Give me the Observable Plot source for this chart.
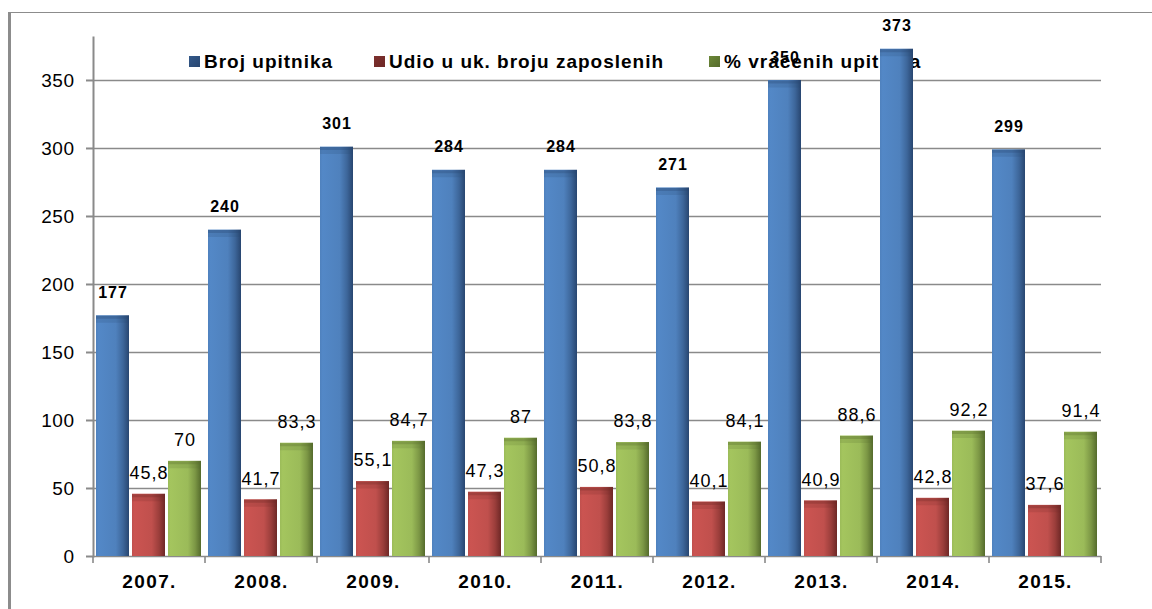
<!DOCTYPE html>
<html>
<head>
<meta charset="utf-8">
<script src="https://cdn.jsdelivr.net/npm/d3@7"></script>
<script src="https://cdn.jsdelivr.net/npm/@observablehq/plot@0.6"></script>
<style>
html, body { margin: 0; padding: 0; background: #fff; }
#wrap { position: relative; width: 1152px; height: 609px; overflow: hidden; font-family: "Liberation Sans", Arial, sans-serif; color: #000; }
#frame { position: absolute; left: 8px; top: 12px; right: -5px; bottom: -5px; border-top: 1px solid #8c8c8c; border-left: 3px solid #8c8c8c; }
.item { position: absolute; top: 50px; height: 23px; display: flex; align-items: center; font-weight: bold; font-size: 19px; letter-spacing: 1px; white-space: nowrap; }
.sw { width: 11px; height: 11px; margin-right: 4px; flex: none; }
#chart { position: absolute; left: 0; top: 0; }
</style>
</head>
<body>
<div id="wrap">
  <div id="frame"></div>
  <div id="legend"></div>
  <div id="chart"></div>
</div>
<script>
// ---- data ----
const years = ["2007.", "2008.", "2009.", "2010.", "2011.", "2012.", "2013.", "2014.", "2015."];
const seriesNames = ["Broj upitnika", "Udio u uk. broju zaposlenih", "% vraćenih upitnika"];
const brojUpitnika = [177, 240, 301, 284, 284, 271, 350, 373, 299];
const udioZaposlenih = [45.8, 41.7, 55.1, 47.3, 50.8, 40.1, 40.9, 42.8, 37.6];
const vracenihUpitnika = [70, 83.3, 84.7, 87, 83.8, 84.1, 88.6, 92.2, 91.4];
const yTicks = [0, 50, 100, 150, 200, 250, 300, 350];

const seriesValues = [brojUpitnika, udioZaposlenih, vracenihUpitnika];
const baseColors = ["#4F81BD", "#C0504D", "#9BBB59"];
const darkColors = ["#284670", "#6e2826", "#556b2c"];
const swatchColors = ["#34598a", "#7d302e", "#6c8838"];

const rows = [];
years.forEach((year, i) => {
  seriesNames.forEach((s, j) => {
    const v = seriesValues[j][i];
    rows.push({year, series: s, value: v, label: String(v).replace(".", ",")});
  });
});

// ---- legend (behind the chart, as in the reference) ----
const legendLeft = [189, 374, 709];
const legend = document.getElementById("legend");
seriesNames.forEach((s, j) => {
  const it = document.createElement("div");
  it.className = "item";
  it.style.left = legendLeft[j] + "px";
  const sw = document.createElement("span");
  sw.className = "sw";
  sw.style.background = `linear-gradient(135deg, ${swatchColors[j]}, ${darkColors[j]})`;
  const tx = document.createElement("span");
  tx.textContent = s;
  it.appendChild(sw);
  it.appendChild(tx);
  legend.appendChild(it);
});

// ---- chart ----
const marks = [
  Plot.ruleY(yTicks.filter(t => t > 0), {stroke: "#8a8a8a", strokeWidth: 1.4}),
  Plot.ruleY([0], {stroke: "#8a8a8a", strokeWidth: 1.6})
];
seriesNames.forEach((s, j) => {
  marks.push(Plot.barY(rows, {filter: d => d.series === s, x: "series", y: "value", fill: `url(#grad${j})`}));
  marks.push(Plot.tickY(rows, {filter: d => d.series === s, x: "series", y: "value", stroke: darkColors[j], strokeOpacity: 0.18, strokeWidth: 7, dy: 3.5}));
  marks.push(Plot.tickY(rows, {filter: d => d.series === s, x: "series", y: "value", stroke: darkColors[j], strokeOpacity: 0.3, strokeWidth: 3, dy: 1.5}));
});
marks.push(Plot.text(rows, {filter: d => d.series === seriesNames[0], x: "series", y: "value", text: "label", dy: -23, fontWeight: "bold", fontSize: 16, fill: "#000"}));
marks.push(Plot.text(rows, {filter: d => d.series !== seriesNames[0], x: "series", y: "value", text: "label", dy: -21, fontSize: 18, fill: "#000"}));

const chart = Plot.plot({
  width: 1152,
  height: 609,
  marginTop: 37,
  marginBottom: 53,
  marginLeft: 92,
  marginRight: 50,
  style: {background: "transparent", fontFamily: "Liberation Sans, Arial, sans-serif", fontSize: "19px", color: "#000"},
  facet: {data: rows, x: "year"},
  fx: {domain: years, padding: 0, axis: "bottom", tickSize: 0, tickPadding: 18, label: null},
  x: {domain: seriesNames, axis: null, paddingInner: 0.082, paddingOuter: 0.077},
  y: {domain: [0, 381.6], ticks: yTicks, tickSize: 7, tickPadding: 12, label: null, line: true, tickFormat: d => String(d)},
  marks
});
document.getElementById("chart").appendChild(chart);

// ---- styling / decorations ----
const s = d3.select(chart);
s.selectAll('[stroke="currentColor"]').attr("stroke", "#8a8a8a").attr("stroke-width", 2);
s.selectAll('g[aria-label^="fx-axis"] text').style("font-weight", "bold").style("letter-spacing", "1.4px");
s.selectAll('g[aria-label^="y-axis"] text').style("letter-spacing", "0.5px");
s.selectAll('g[aria-label="text"] text').style("letter-spacing", "1px");

const defs = s.insert("defs", ":first-child");
baseColors.forEach((c, j) => {
  const g = defs.append("linearGradient").attr("id", `grad${j}`).attr("x1", 0).attr("x2", 1).attr("y1", 0).attr("y2", 0);
  const lighter = d3.color(c).brighter(0.15).formatHex();
  const mid = d3.interpolateRgb(c, darkColors[j])(0.45);
  [[0, c], [0.08, lighter], [0.6, c], [0.82, mid], [1, darkColors[j]]].forEach(([o, col]) => {
    g.append("stop").attr("offset", o).attr("stop-color", col);
  });
});

// group-boundary ticks on the category axis, taken from the fx scale
try {
  const fx = chart.scale("fx");
  const y = chart.scale("y");
  const y0 = y.apply(0);
  const bounds = years.map(yr => fx.apply(yr));
  bounds.push(fx.apply(years[years.length - 1]) + fx.bandwidth);
  s.append("g").selectAll("line").data(bounds).join("line")
    .attr("x1", d => d).attr("x2", d => d)
    .attr("y1", y0).attr("y2", y0 + 7)
    .attr("stroke", "#8a8a8a").attr("stroke-width", 1.6);
} catch (e) { console.error(e); }
</script>
</body>
</html>
